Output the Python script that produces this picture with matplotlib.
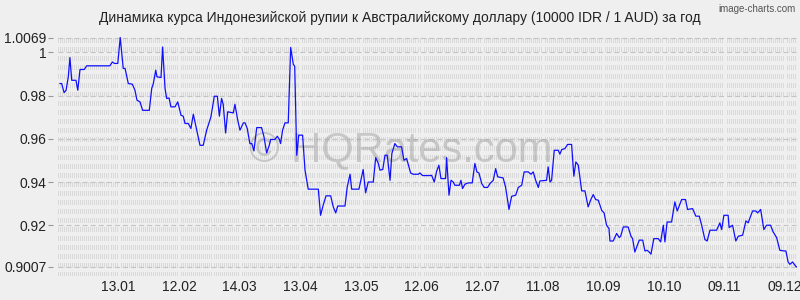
import pandas as pd
import numpy as np
import matplotlib
matplotlib.use("Agg")
import matplotlib.pyplot as plt
import matplotlib.dates as mdates

plt.rcParams['font.family'] = ['Liberation Sans', 'DejaVu Sans']
plt.rcParams['lines.scale_dashes'] = False

title = "Динамика курса Индонезийской рупии к Австралийскому доллару (10000 IDR / 1 AUD) за год"
start = pd.Timestamp("2012-12-14")

# day offsets from start and rate values (10000 IDR in AUD)
days = [1.0, 1.8, 3.0, 4.0, 5.1, 5.9, 6.8, 8.9, 9.8, 10.9, 13.0, 14.2, 25.7, 26.9, 27.9, 29.6,
        30.8, 32.3, 33.2, 34.8, 36.8, 38.1, 39.1, 40.6, 41.9, 45.2, 46.4, 47.2, 48.4, 49.0,
        51.0, 51.8, 53.0, 53.8, 55.0, 55.9, 57.9, 59.3, 60.9, 62.0, 62.9, 64.5, 65.8, 67.0,
        68.7, 70.3, 71.9, 73.6, 75.7, 77.4, 78.9, 79.9, 81.0, 81.8, 83.0, 84.0, 86.8, 87.6,
        89.0, 90.1, 91.8, 92.6, 93.7, 95.0, 96.0, 97.0, 98.4, 100.8, 102.0, 103.3, 104.6,
        105.3, 107.4, 108.6, 109.6, 110.2, 111.2, 112.4, 114.0, 115.2, 116.5, 117.2, 118.2,
        119.2, 121.1, 122.3, 123.9, 128.9, 130.0, 131.3, 132.7, 135.0, 136.3, 137.5, 138.5,
        142.1, 143.2, 144.6, 145.4, 149.0, 150.3, 151.1, 152.3, 153.6, 156.1, 157.3, 158.6,
        159.4, 160.8, 161.9, 163.0, 164.4, 165.3, 166.8, 168.0, 170.1, 171.3, 172.6, 174.6,
        175.9, 178.4, 179.2, 180.5, 184.2, 185.0, 186.3, 187.5, 188.6, 189.6, 191.9, 192.4,
        193.6, 194.6, 195.7, 196.5, 198.7, 199.5, 200.3, 201.5, 203.1, 205.1, 206.4, 207.4,
        208.4, 209.8, 211.0, 212.7, 213.9, 215.5, 216.7, 217.7, 220.4, 221.6, 223.3, 224.6,
        226.6, 227.9, 229.6, 230.8, 232.8, 234.2, 235.3, 236.5, 237.8, 238.6, 241.9, 242.7,
        243.6, 244.4, 245.7, 247.7, 248.5, 249.4, 251.0, 252.3, 254.3, 255.4, 256.4, 257.6,
        259.3, 260.9, 262.5, 263.7, 265.0, 266.2, 267.5, 269.2, 270.4, 271.6, 272.8, 273.3,
        274.9, 276.6, 277.9, 278.6, 279.9, 282.3, 283.7, 284.5, 285.6, 287.8, 289.5, 290.6,
        291.7, 292.7, 293.6, 295.0, 297.2, 298.4, 299.7, 300.5, 301.6, 303.8, 305.4, 306.6,
        308.0, 308.8, 310.7, 311.7, 314.2, 315.8, 317.5, 318.7, 320.3, 321.4, 322.8, 326.1,
        327.7, 328.6, 329.7, 331.8, 332.3, 334.0, 335.6, 336.8, 339.0, 340.6, 341.7, 343.9,
        345.5, 346.4, 347.9, 349.5, 350.8, 352.8, 354.1, 355.8, 357.4, 359.4, 360.4, 361.5,
        362.4, 363.7, 365.3, 365.8]
rates = [0.9856, 0.9856, 0.9814, 0.9825, 0.9887, 0.9976, 0.9871, 0.9871, 0.9825, 0.9921, 0.9921,
         0.9938, 0.9938, 0.9956, 0.9949, 0.9949, 1.0069, 0.9926, 0.9926, 0.9856, 0.9853, 0.9825,
         0.9779, 0.9771, 0.9732, 0.9732, 0.9833, 0.9856, 0.9918, 0.9887, 0.9884, 1.0025, 0.9833,
         0.9787, 0.9789, 0.9748, 0.9748, 0.9771, 0.9709, 0.9705, 0.9671, 0.9671, 0.9648, 0.9714,
         0.9640, 0.9570, 0.9570, 0.9640, 0.9701, 0.9797, 0.9797, 0.9705, 0.9787, 0.9760, 0.9627,
         0.9725, 0.9720, 0.9760, 0.9686, 0.9640, 0.9674, 0.9674, 0.9648, 0.9578, 0.9578, 0.9544,
         0.9652, 0.9652, 0.9609, 0.9535, 0.9570, 0.9597, 0.9597, 0.9612, 0.9597, 0.9578, 0.9640,
         0.9674, 0.9674, 1.0023, 0.9945, 0.9936, 0.9524, 0.9617, 0.9617, 0.9455, 0.9367, 0.9367,
         0.9246, 0.9293, 0.9336, 0.9336, 0.9285, 0.9257, 0.9289, 0.9289, 0.9377, 0.9436, 0.9367,
         0.9367, 0.9424, 0.9458, 0.9350, 0.9400, 0.9400, 0.9513, 0.9486, 0.9455, 0.9458, 0.9524,
         0.9524, 0.9408, 0.9532, 0.9578, 0.9563, 0.9563, 0.9501, 0.9509, 0.9442, 0.9436, 0.9436,
         0.9442, 0.9430, 0.9430, 0.9431, 0.9400, 0.9451, 0.9478, 0.9416, 0.9416, 0.9513, 0.9339,
         0.9408, 0.9400, 0.9385, 0.9385, 0.9408, 0.9370, 0.9390, 0.9396, 0.9396, 0.9486, 0.9447,
         0.9442, 0.9393, 0.9375, 0.9375, 0.9393, 0.9408, 0.9462, 0.9424, 0.9419, 0.9377, 0.9273,
         0.9334, 0.9339, 0.9375, 0.9385, 0.9447, 0.9447, 0.9436, 0.9447, 0.9408, 0.9375, 0.9405,
         0.9408, 0.9470, 0.9400, 0.9408, 0.9547, 0.9547, 0.9529, 0.9550, 0.9555, 0.9574, 0.9574,
         0.9427, 0.9493, 0.9478, 0.9359, 0.9359, 0.9285, 0.9316, 0.9342, 0.9319, 0.9316, 0.9269,
         0.9257, 0.9200, 0.9185, 0.9127, 0.9127, 0.9162, 0.9143, 0.9149, 0.9192, 0.9192, 0.9149,
         0.9138, 0.9076, 0.9131, 0.9131, 0.9081, 0.9084, 0.9076, 0.9066, 0.9138, 0.9138, 0.9123,
         0.9200, 0.9123, 0.9215, 0.9215, 0.9308, 0.9266, 0.9300, 0.9319, 0.9319, 0.9273, 0.9277,
         0.9242, 0.9242, 0.9200, 0.9134, 0.9127, 0.9177, 0.9177, 0.9211, 0.9180, 0.9246, 0.9246,
         0.9189, 0.9200, 0.9127, 0.9149, 0.9154, 0.9220, 0.9211, 0.9266, 0.9266, 0.9257, 0.9273,
         0.9180, 0.9200, 0.9200, 0.9169, 0.9143, 0.9084, 0.9081, 0.9081, 0.9030, 0.9019, 0.9030,
         0.9010, 0.9007]

yticks = [0.9007, 0.92, 0.94, 0.96, 0.98, 1.0, 1.0069]
ylabels = ["0.9007", "0.92", "0.94", "0.96", "0.98", "1", "1.0069"]

dates = start + pd.to_timedelta(days, unit="D")
xticks = pd.date_range("2013-01-13", periods=12, freq="30D")

bg = "#efefef"
fig = plt.figure(figsize=(8, 3), dpi=100, facecolor=bg)
ax = fig.add_axes([0.0725, 0.08, 0.924, 0.80], facecolor=bg)

ax.plot(dates, rates, color="#1010ff", lw=0.9, zorder=4)

ax.set_xlim(start, start + pd.Timedelta(days=366))
ax.set_ylim(0.8965, 1.0076)

ax.set_xticks(xticks)
ax.set_xticklabels([d.strftime("%d.%m") for d in xticks])
ax.xaxis.set_minor_locator(mdates.DayLocator())
ax.set_yticks(yticks)
ax.set_yticklabels(ylabels)

for s in ax.spines.values():
    s.set_visible(False)
ax.spines["left"].set_position(("outward", 3.6))

ax.tick_params(axis="x", which="both", length=0, pad=3, labelsize=10, labelcolor="#222222")
ax.tick_params(axis="y", length=3.6, width=0.8, color="#999999", pad=1,
               labelsize=10, labelcolor="#222222")

# background hatch rows and dashed level lines
ax.grid(axis="x", which="minor", color="#d9d9d9", lw=0.72,
        linestyle=(0, (2.9, 2.9)), antialiased=False, zorder=1)
ax.grid(axis="y", which="major", color="#c4c4c4", lw=0.8,
        linestyle=(0, (3.6, 2.2)), zorder=2)
ax.set_axisbelow(True)

ax.text(0.463, 0.525, "© HQRates.com", transform=ax.transAxes, ha="center", va="center",
        fontsize=30, color="#999999", alpha=0.45, zorder=3)

fig.text(0.5, 1 - 18 / 300, title, ha="center", va="center", fontsize=10, color="#222222")
fig.text(0.995, 1 - 9 / 300, "image-charts.com", ha="right", va="center", fontsize=7,
         color="#555555")

fig.savefig("out.png", dpi=100, facecolor=bg)
